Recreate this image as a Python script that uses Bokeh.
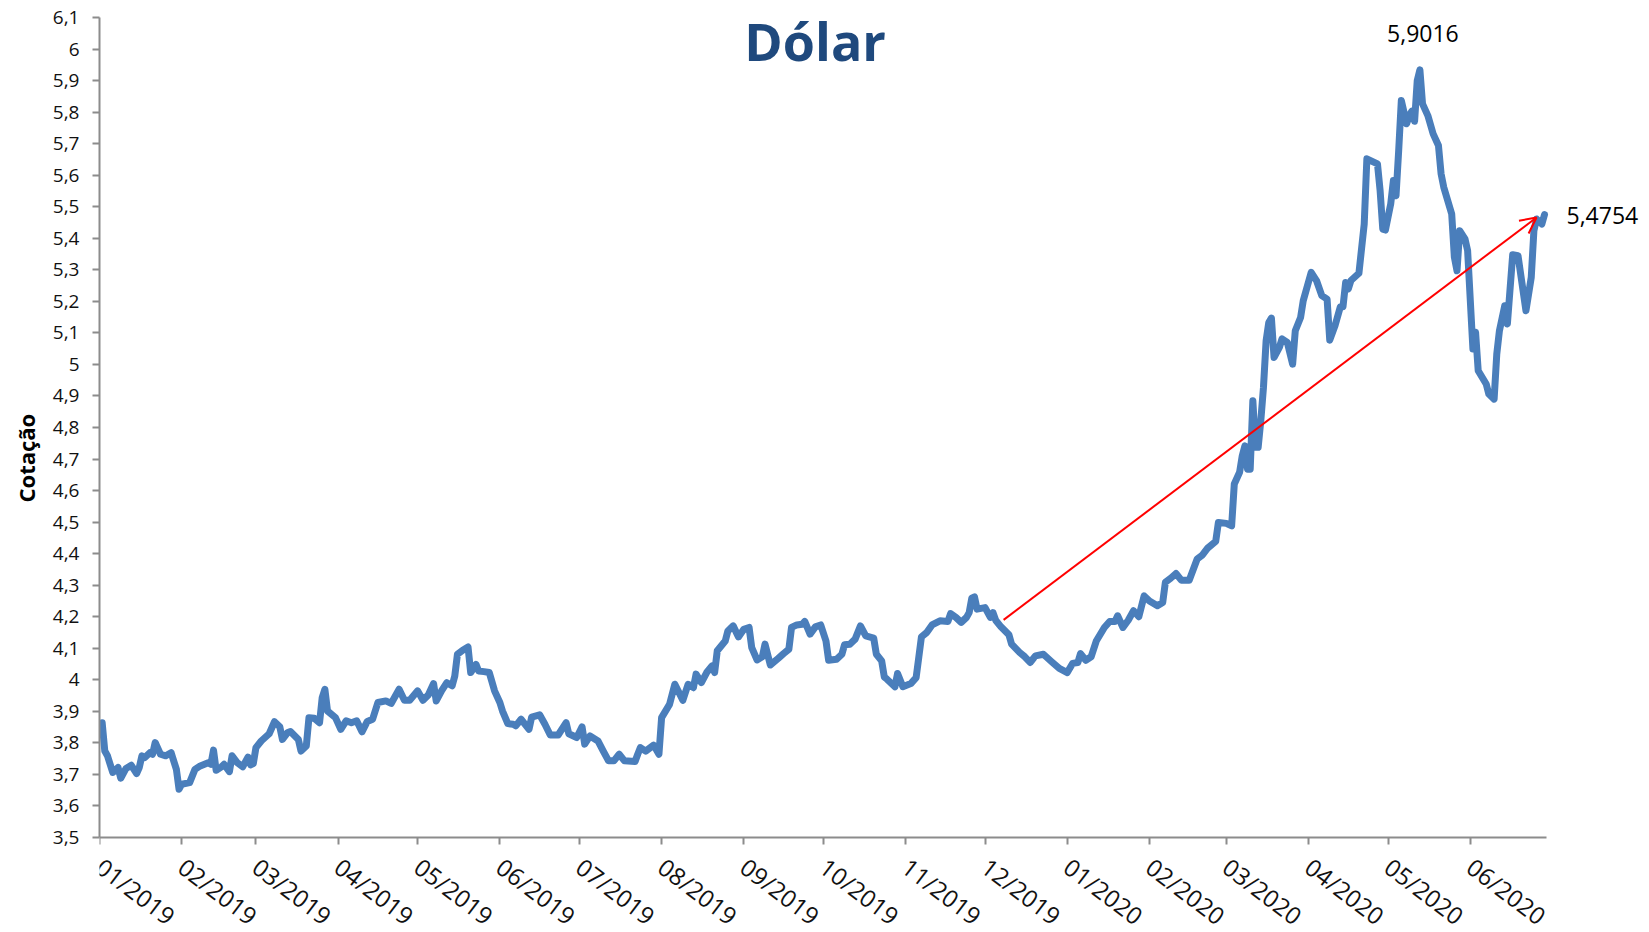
import math
import pandas as pd
from bokeh.plotting import figure
from bokeh.models import (FixedTicker, CustomJSTickFormatter, Label, Arrow,
                          OpenHead, Range1d, Title)
from bokeh.embed import file_html
from bokeh.resources import INLINE

# ---------------- data ----------------
START = pd.Timestamp("2019-01-01")
# day offsets from 2019-01-01
days = [1, 2, 3, 5, 7, 8, 10, 12, 14, 15, 16, 17, 19, 20, 21, 23, 25, 27, 29, 30,
        31, 34, 36, 38, 41, 42, 43, 44, 46, 47, 49, 50, 52, 54, 56, 57, 58, 59, 61, 64,
        66, 68, 69, 71, 72, 75, 76, 78, 79, 81, 83, 84, 85, 86, 89, 91, 93,
        95, 97, 99, 101, 103, 105, 108, 110, 113, 115, 117, 120, 122, 124, 126, 127, 129, 131,
        133, 134, 135, 137, 139, 140, 142, 143, 145, 147, 149, 151, 152, 154, 156, 157, 159,
        162, 163, 166, 168, 170, 173, 176, 177, 180, 182, 183, 185, 188,
        190, 192, 194, 196, 198, 202, 203, 204, 206, 209, 211, 212, 215, 217, 220, 222, 224,
        225, 227, 229, 231, 232, 233, 236, 237, 239, 241, 243, 245, 246, 248, 250, 251, 253,
        256, 258, 260, 261, 263, 265, 266, 268, 270, 272, 274, 275, 278, 280, 281, 283,
        285, 287, 289, 292, 293, 295, 296, 297, 300, 301, 303, 306, 308, 309, 310, 312, 314,
        317, 320, 321, 323, 325, 327, 328, 329, 330, 331, 334, 336, 337, 338, 340, 343, 344,
        347, 349, 351, 353, 356, 359, 362, 365, 367, 369, 370, 372, 374,
        376, 379, 381, 383, 384, 386, 388, 390, 392, 394, 396, 399, 401, 402, 404, 406, 408,
        411, 414, 416, 418, 421, 422, 425, 427, 428, 430, 431, 432, 433, 434, 435, 436, 437,
        438, 439, 440, 441, 442, 443, 445, 446, 448, 450, 451, 453, 454, 457,
        459, 461, 463, 464, 466, 468, 469, 470, 471, 472, 475, 477, 478, 482, 483, 484, 485,
        487, 488, 489, 490, 491, 493, 494, 495, 496, 497, 498, 499, 501, 503, 505, 506, 507,
        510, 511, 512, 513, 515, 516, 518, 519, 520, 523, 524, 526, 527, 528, 530, 531, 533,
        535, 538, 540, 541, 542, 544, 545]

usd_brl = [3.864, 3.774, 3.759, 3.706, 3.722, 3.688, 3.719, 3.729, 3.703, 3.722, 3.759, 3.753,
           3.769, 3.764, 3.801, 3.764, 3.759, 3.769, 3.716, 3.653,
           3.669, 3.674, 3.716, 3.727, 3.737, 3.732, 3.777, 3.713, 3.724, 3.732, 3.709, 3.759,
           3.737, 3.724, 3.755, 3.730, 3.734, 3.785, 3.806, 3.829,
           3.867, 3.851, 3.811, 3.833, 3.836, 3.811, 3.774, 3.790, 3.880, 3.878, 3.864, 3.944,
           3.970, 3.901, 3.880, 3.843, 3.870,
           3.864, 3.870, 3.835, 3.868, 3.875, 3.928, 3.933, 3.925, 3.970, 3.935, 3.935, 3.965,
           3.935, 3.952, 3.988, 3.933, 3.965, 3.991,
           3.981, 4.012, 4.081, 4.094, 4.104, 4.023, 4.049, 4.028, 4.026, 4.023, 3.965, 3.928,
           3.901, 3.861, 3.859, 3.854, 3.875,
           3.843, 3.882, 3.889, 3.859, 3.825, 3.825, 3.864, 3.829, 3.817, 3.851, 3.796, 3.822,
           3.806,
           3.774, 3.743, 3.743, 3.764, 3.743, 3.741, 3.764, 3.785, 3.774, 3.793, 3.764, 3.880,
           3.922, 3.986, 3.935, 3.986, 3.975,
           4.018, 3.991, 4.023, 4.044, 4.023, 4.092, 4.123, 4.155, 4.171, 4.136, 4.160, 4.166,
           4.102, 4.063, 4.073, 4.113, 4.047,
           4.068, 4.083, 4.097, 4.166, 4.174, 4.176, 4.185, 4.145, 4.168, 4.174, 4.123, 4.062,
           4.065, 4.081, 4.111, 4.113,
           4.129, 4.171, 4.139, 4.132, 4.081, 4.060, 4.009, 4.002, 3.978, 4.020, 3.978, 3.988,
           4.007, 4.071, 4.136, 4.150, 4.174,
           4.187, 4.185, 4.210, 4.198, 4.182, 4.198, 4.213, 4.259, 4.263, 4.224, 4.229, 4.198,
           4.213, 4.189, 4.168, 4.143, 4.113,
           4.087, 4.073, 4.055, 4.076, 4.081, 4.058, 4.036, 4.023, 4.052, 4.055, 4.083, 4.062,
           4.073,
           4.124, 4.166, 4.185, 4.185, 4.203, 4.166, 4.189, 4.219, 4.200, 4.266, 4.250, 4.235,
           4.245, 4.309, 4.322, 4.337, 4.316,
           4.316, 4.383, 4.396, 4.418, 4.439, 4.499, 4.496, 4.488, 4.621, 4.658, 4.710, 4.742,
           4.668, 4.668, 4.885, 4.737, 4.737,
           4.822, 4.927, 5.075, 5.133, 5.147, 5.022, 5.054, 5.081, 5.070, 5.001, 5.107, 5.149,
           5.202, 5.292,
           5.266, 5.218, 5.207, 5.077, 5.123, 5.183, 5.183, 5.260, 5.239, 5.266, 5.289, 5.445,
           5.652, 5.636, 5.551, 5.429, 5.426,
           5.509, 5.583, 5.535, 5.678, 5.837, 5.763, 5.789, 5.803, 5.771, 5.900, 5.934, 5.826,
           5.789, 5.731, 5.694, 5.604, 5.562,
           5.477, 5.340, 5.297, 5.424, 5.398, 5.361, 5.049, 5.102, 4.980, 4.938, 4.906, 4.890,
           5.033, 5.107, 5.186, 5.128, 5.348,
           5.345, 5.170, 5.276, 5.424, 5.461, 5.445, 5.475]

month_labels = ["01/2019", "02/2019", "03/2019", "04/2019", "05/2019", "06/2019",
                "07/2019", "08/2019", "09/2019", "10/2019", "11/2019", "12/2019",
                "01/2020", "02/2020", "03/2020", "04/2020", "05/2020", "06/2020"]
y_ticks = [3.5, 3.6, 3.7, 3.8, 3.9, 4.0, 4.1, 4.2, 4.3, 4.4, 4.5, 4.6, 4.7, 4.8, 4.9,
           5.0, 5.1, 5.2, 5.3, 5.4, 5.5, 5.6, 5.7, 5.8, 5.9, 6.0, 6.1]
title_text = "Dólar"
y_title = "Cotação"
peak_text = "5,9016"
last_text = "5,4754"
arrow_start = (341, 4.19)    # (day offset, value)
arrow_end = (542, 5.466)

# ---------------- helpers ----------------
def ms(ts):
    return ts.value / 1e6

def day_ms(d):
    return ms(START + pd.Timedelta(days=d))

dates = [START + pd.Timedelta(days=d) for d in days]
x_ms = [ms(d) for d in dates]

FONT = "Open Sans"
AXIS_GREY = "#8C8C8C"
AXIS_END_DAY = 545.7      # where the date axis line stops
FRAME_END_DAY = 584.6     # frame continues to the right edge (room for the last label)
Y_MIN, Y_MAX = 3.5, 6.1

# layout: value axis spans from y=17px to y=837px; the frame continues below it
W, H = 1649, 932
TOP, AXIS_Y = 17, 837
px_per_unit = (AXIS_Y - TOP) / (Y_MAX - Y_MIN)
frame_bottom_value = Y_MIN - (H - AXIS_Y) / px_per_unit

p = figure(width=W, height=H, output_backend="svg", toolbar_location=None,
           x_axis_type="datetime",
           x_range=Range1d(ms(START), day_ms(FRAME_END_DAY)),
           y_range=Range1d(frame_bottom_value, Y_MAX),
           min_border_left=99, min_border_right=0, min_border_top=TOP,
           min_border_bottom=0)
p.outline_line_color = None
p.grid.visible = False
p.background_fill_color = "white"
p.border_fill_color = "white"

p.line(x_ms, usd_brl, line_color="#4A7EBB", line_width=7, line_join="round",
       line_cap="round")

# axes
month_starts = pd.date_range("2019-01-01", periods=len(month_labels), freq="MS")
month_ms = [ms(t) for t in month_starts]
xa = p.xaxis[0]
xa.ticker = FixedTicker(ticks=month_ms, minor_ticks=[])
xa.major_label_overrides = {m: lab for m, lab in zip(month_ms, month_labels)}
xa.major_label_orientation = -0.65
xa.bounds = (ms(START), day_ms(AXIS_END_DAY))
xa.fixed_location = Y_MIN   # date axis sits at 3,5 inside the (taller) frame

ya = p.yaxis[0]
ya.ticker = FixedTicker(ticks=y_ticks, minor_ticks=[])
ya.bounds = (Y_MIN, Y_MAX)
ya.formatter = CustomJSTickFormatter(
    code="var s = tick.toFixed(1); if (s.endsWith('.0')) s = s.slice(0, -2); return s.replace('.', ',');")

for ax in (xa, ya):
    ax.axis_line_color = AXIS_GREY
    ax.axis_line_width = 2
    ax.major_tick_line_color = AXIS_GREY
    ax.major_tick_line_width = 2
    ax.major_tick_out = 7
    ax.major_tick_in = 0
    ax.minor_tick_line_color = None
    ax.major_label_text_font = FONT
    ax.major_label_text_color = "#111111"
ya.major_label_text_font_size = "19px"
xa.major_label_text_font_size = "24px"
ya.major_label_standoff = 13
xa.major_label_standoff = 19

# y axis title, placed left of the tick labels
p.add_layout(Title(text=y_title, align="left", offset=430, standoff=14,
                   vertical_align="top",
                   text_font=FONT, text_font_size="22px", text_font_style="bold",
                   text_color="black"), "left")

# chart title
p.add_layout(Label(x=day_ms(269.9), y=6.028, text=title_text,
                   text_font=FONT, text_font_size="52px", text_font_style="bold",
                   text_color="#1F497D", text_align="center", text_baseline="alphabetic"))

# peak and last value labels
i_peak = max(range(len(usd_brl)), key=lambda i: usd_brl[i])
p.add_layout(Label(x=x_ms[i_peak], y=usd_brl[i_peak], x_offset=3, y_offset=36, text=peak_text,
                   text_font=FONT, text_font_size="23px", text_color="black",
                   text_align="center", text_baseline="alphabetic"))
p.add_layout(Label(x=x_ms[-1], y=usd_brl[-1], x_offset=22, y_offset=-1, text=last_text,
                   text_font=FONT, text_font_size="23px", text_color="black",
                   text_align="left", text_baseline="alphabetic"))

# red arrow
p.add_layout(Arrow(end=OpenHead(size=16, line_color="red", line_width=2),
                   x_start=day_ms(arrow_start[0]), y_start=arrow_start[1],
                   x_end=day_ms(arrow_end[0]), y_end=arrow_end[1],
                   line_color="red", line_width=2))

open("out.html", "w").write(file_html(p, INLINE))
